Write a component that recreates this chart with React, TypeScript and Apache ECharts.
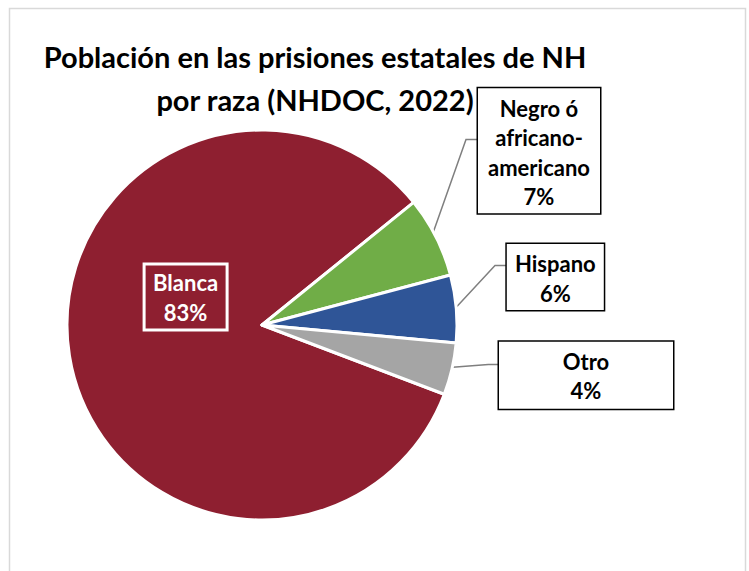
import React, { useEffect, useRef } from "react";
import * as echarts from "echarts";

const titleLines = ["Población en las prisiones estatales de NH", "por raza (NHDOC, 2022)"];
const categories = ["Blanca", "Negro ó africano-americano", "Hispano", "Otro"];
const labelNames = ["Blanca", "Negro ó\nafricano-\namericano", "Hispano", "Otro"];
const values = [83.4, 6.7, 5.6, 4.3];
const percentLabels = ["83%", "7%", "6%", "4%"];
const colors = ["#8E1F30", "#70AD47", "#2F5597", "#A5A5A5"];

// label box placement (style/layout only)
const boxes = [
  { cx: 185.6, top: 264, width: 83, pad: [4, 0, 3, 0] },
  { cx: 539, top: 88.3, width: 122, pad: [5, 0, 2, 0] },
  { cx: 555.3, top: 244, width: 97, pad: [5, 0, 2, 0] },
  { cx: 586, top: 341.7, width: 174, pad: [5, 0, 3, 0] },
];
const leaderLines: (number[][] | null)[] = [
  null,
  [[433, 233], [466, 139.5], [478, 139.5]],
  [[456.7, 306.7], [495, 265.5], [506.7, 265.5]],
  [[452.7, 367.3], [488.3, 364.5], [499, 364.5]],
];

export default function App() {
  const ref = useRef<HTMLDivElement>(null);
  useEffect(() => {
    document.body.style.margin = "0";
    const chart = echarts.init(ref.current!, null, { renderer: "svg" });
    const data = categories.map((name, i) => ({
      name,
      value: values[i],
      itemStyle: { color: colors[i] },
      label: {
        show: true,
        formatter: labelNames[i] + "\n" + percentLabels[i],
        color: i === 0 ? "#ffffff" : "#000000",
        backgroundColor: i === 0 ? "transparent" : "#ffffff",
        borderColor: i === 0 ? "#ffffff" : "#000000",
        borderWidth: 1.5,
        width: boxes[i].width,
        padding: boxes[i].pad,
        align: "center",
      },
      labelLine: { show: i !== 0 },
    }));
    chart.setOption({
      animation: false,
      backgroundColor: "#ffffff",
      graphic: [
        {
          type: "rect",
          shape: { x: 9.5, y: 8.5, width: 736, height: 620 },
          style: { fill: "none", stroke: "#d9d9d9", lineWidth: 1.5 },
          z: -1,
        },
      ],
      title: {
        text: titleLines.join("\n"),
        left: 315,
        top: 35,
        padding: 0,
        textAlign: "center",
        textStyle: {
          fontFamily: "Lato",
          fontWeight: "bold",
          fontSize: 29,
          lineHeight: 43,
          color: "#000000",
        },
      },
      series: [
        {
          type: "pie",
          center: [262, 325],
          radius: 195,
          startAngle: 339.2,
          clockwise: true,
          avoidLabelOverlap: false,
          itemStyle: { borderColor: "#ffffff", borderWidth: 3 },
          label: {
            position: "outside",
            fontFamily: "Lato",
            fontWeight: "bold",
            fontSize: 22,
            lineHeight: 29.5,
          },
          labelLine: {
            show: true,
            lineStyle: { color: "#7f7f7f", width: 1.5 },
          },
          labelLayout: (params: any) => {
            const i = params.dataIndex;
            const b = boxes[i];
            const out: any = {
              x: b.cx,
              y: b.top,
              align: "center",
              verticalAlign: "top",
            };
            if (leaderLines[i]) out.labelLinePoints = leaderLines[i];
            return out;
          },
          data,
        },
      ],
    });
    return () => chart.dispose();
  }, []);
  return <div ref={ref} style={{ width: 749, height: 571 }} />;
}
